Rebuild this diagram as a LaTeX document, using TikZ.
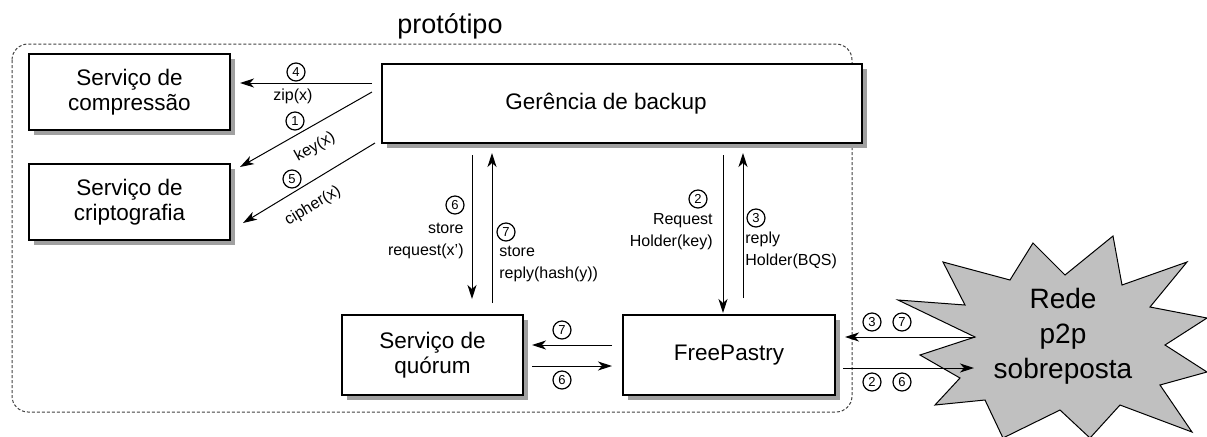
\documentclass[tikz,border=0pt]{standalone}
\usepackage{fontspec}
\setmainfont{Liberation Sans}
\usetikzlibrary{arrows.meta,shadows}
\definecolor{shadowgray}{HTML}{A0A0A0}
\definecolor{burstgray}{HTML}{C0C0C0}
\definecolor{framegray}{HTML}{404040}
\begin{document}
\begin{tikzpicture}[x=0.5pt,y=-0.5pt,
  box/.style={draw, line width=1pt, fill=white, align=center,
    font=\fontsize{11.25}{12.5}\selectfont, inner sep=0pt,
    general shadow={fill=shadowgray, shadow xshift=2.5pt, shadow yshift=-2.5pt}},
  arr/.style={-{Stealth[length=7pt,width=4.5pt,inset=2pt]}, line width=0.5pt},
  num/.style={circle, draw, line width=0.6pt, inner sep=0pt, minimum size=9pt,
    font=\fontsize{6.5}{6.5}\selectfont},
  lbl/.style={font=\fontsize{8}{11}\selectfont, inner sep=0pt},
  frame/.style={draw=framegray, line width=0.5pt, dash pattern=on 1.5pt off 1pt, rounded corners=8pt}]
\useasboundingbox (0,0) rectangle (1207,436);

% frame
\draw[frame] (12,44) rectangle (852,412);
\node[font=\fontsize{13.5}{14}\selectfont, anchor=base] (proto) at (450,33) {protótipo};

% boxes
\node[box, minimum width=100.5pt, minimum height=38pt] (comp) at (129.5,92) {Serviço de\\compressão};
\node[box, minimum width=100.5pt, minimum height=38pt] (crip) at (129.5,202) {Serviço de\\criptografia};
\node[box, align=left, minimum width=240pt, minimum height=39.5pt] (gb) at (622,103.5) {Gerência de backup\hspace{16pt}};
\node[box, minimum width=90.5pt, minimum height=40pt] (quo) at (432.5,355) {Serviço de\\quórum};
\node[box, minimum width=106pt, minimum height=40pt] (fp) at (729,355) {FreePastry};

% starburst
\filldraw[fill=burstgray, draw=black, line width=0.5pt]
  (1113,236) -- (1122,285) -- (1187,262) -- (1150,307) -- (1207,318) -- (1165,345)
  -- (1207,372) -- (1160,385) -- (1192,432) -- (1120,405) -- (1090,438) -- (1060,410)
  -- (1003,438) -- (985,400) -- (935,405) -- (960,378) -- (920,355) -- (975,337)
  -- (898,300) -- (965,305) -- (943,262) -- (1010,280) -- (1033,243) -- (1065,275) -- cycle;
\node[align=center, font=\fontsize{14}{17.5}\selectfont, inner sep=0pt] (rede) at (1063,336) {Rede\\p2p\\sobreposta};

% coordinates
\coordinate (zipS) at (372,83);  \coordinate (zipE) at (240,83);
\coordinate (keyS) at (372,92);  \coordinate (keyE) at (240,167);
\coordinate (ciS) at (375,143);  \coordinate (ciE) at (243,223);
\coordinate (s6S) at (472,155);  \coordinate (s6E) at (472,299);
\coordinate (s7S) at (492,303);  \coordinate (s7E) at (492,153);
\coordinate (h2S) at (723,155);  \coordinate (h2E) at (723,313);
\coordinate (h3S) at (743,298);  \coordinate (h3E) at (743,153);
\coordinate (q7S) at (612,345);  \coordinate (q7E) at (532,345);
\coordinate (q6S) at (532,366);  \coordinate (q6E) at (612,366);
\coordinate (r37S) at (975,337); \coordinate (r37E) at (845,337);
\coordinate (r26S) at (843,368); \coordinate (r26E) at (974,368);

% arrows
\draw[arr] (zipS) -- (zipE);
\draw[arr] (keyS) -- (keyE);
\draw[arr] (ciS) -- (ciE);
\draw[arr] (s6S) -- (s6E);
\draw[arr] (s7S) -- (s7E);
\draw[arr] (h2S) -- (h2E);
\draw[arr] (h3S) -- (h3E);
\draw[arr] (q7S) -- (q7E);
\draw[arr] (q6S) -- (q6E);
\draw[arr] (r37S) -- (r37E);
\draw[arr] (r26S) -- (r26E);

% labels
\node[num] (n4) at (296,72) {4};
\node[lbl] (lzip) at (293,96) {zip(x)};
\node[num] (n1) at (295,121) {1};
\node[lbl, rotate=29.6] (lkey) at (315,147) {key(x)};
\node[num] (n5) at (292,179) {5};
\node[lbl, rotate=31] (lci) at (313,206) {cipher(x)};

\node[num] (n6a) at (455,205) {6};
\node[lbl, align=right, anchor=east] (ls6) at (464,241) {store\\request(x')};
\node[num] (n7a) at (506,232) {7};
\node[lbl, align=left, anchor=west] (ls7) at (499,264) {store\\reply(hash(y))};

\node[num] (n2a) at (698,199) {2};
\node[lbl, align=right, anchor=east] (lh2) at (713,232) {Request\\Holder(key)};
\node[num] (n3a) at (756,218) {3};
\node[lbl, align=left, anchor=west] (lh3) at (745,250) {reply\\Holder(BQS)};

\node[num] (n7b) at (562,330) {7};
\node[num] (n6b) at (562,380) {6};

\node[num] (n3c) at (872,322) {3};
\node[num] (n7c) at (902,322) {7};
\node[num] (n2c) at (872,382) {2};
\node[num] (n6c) at (902,382) {6};
\end{tikzpicture}
\end{document}
